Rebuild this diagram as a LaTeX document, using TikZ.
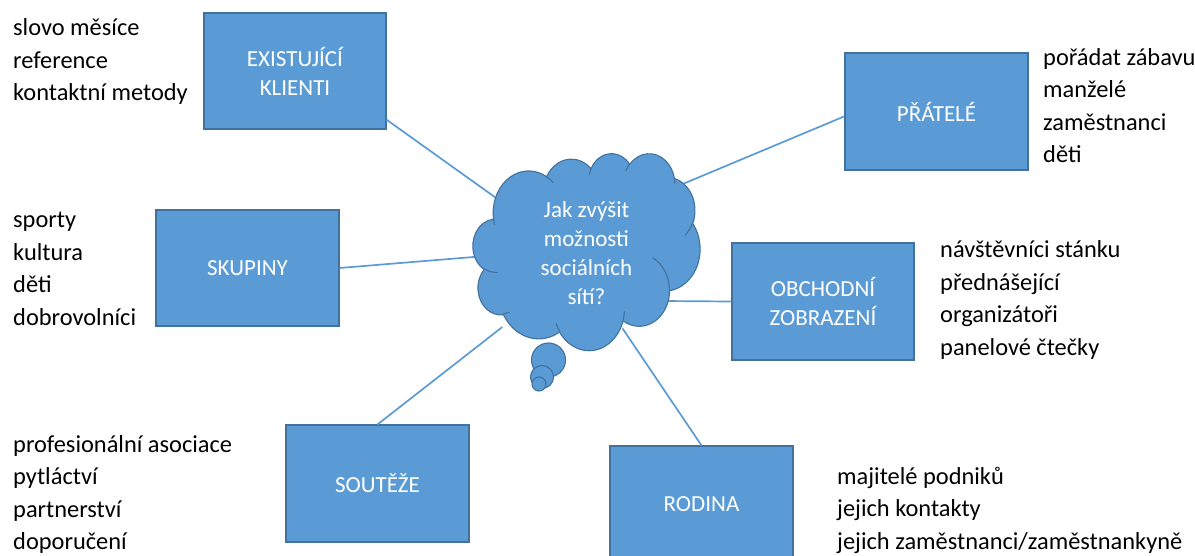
\documentclass[tikz,border=0pt]{standalone}
\usepackage{fontspec}
\setmainfont{Carlito}
\definecolor{boxblue}{HTML}{5B9BD5}
\definecolor{boxedge}{HTML}{41719C}
\definecolor{linkblue}{HTML}{5B9BD5}

% One cloud arc: name, x radius, y radius, start angle, sweep (angles measured on the ellipse as seen)
\newcommand\mkcloudarc[5]{%
  \pgfmathsetmacro\cloudtA{atan2((#2)*sin(#4),(#3)*cos(#4))}%
  \pgfmathsetmacro\cloudtB{atan2((#2)*sin(#4+#5),(#3)*cos(#4+#5))}%
  \pgfmathsetmacro\cloudtD{mod(\cloudtB-\cloudtA+720,360)}%
  \expandafter\xdef\csname #1\endcsname{arc[start angle=\cloudtA, delta angle=\cloudtD, x radius=#2, y radius=#3]}%
}
\mkcloudarc{cArcA}{67.53}{91.90}{-190.4875}{123.7805}
\mkcloudarc{cArcB}{53.33}{72.67}{-144.1024}{89.9452}
\mkcloudarc{cArcC}{43.65}{59.45}{-145.8079}{99.7230}
\mkcloudarc{cArcD}{48.57}{65.95}{-130.9861}{117.2417}
\mkcloudarc{cArcE}{53.33}{72.73}{-78.7089}{109.0269}
\mkcloudarc{cArcF}{67.75}{92.20}{-46.2673}{130.2690}
\mkcloudarc{cArcG}{57.85}{78.67}{0.6250}{114.0333}
\mkcloudarc{cArcH}{67.52}{92.15}{22.4516}{115.1726}
\mkcloudarc{cArcI}{77.20}{105.43}{66.2426}{75.7110}
\mkcloudarc{cArcJ}{43.60}{59.18}{-274.9421}{146.7356}
\mkcloudarc{cArcK}{43.45}{59.45}{-246.8285}{152.5189}
% inner fold lines
\mkcloudarc{fArcA}{43.45}{59.45}{86.742}{26.430}
\mkcloudarc{fArcB}{43.60}{59.18}{73.611}{11.447}
\mkcloudarc{fArcC}{67.52}{92.15}{137.624}{14.081}
\mkcloudarc{fArcD}{67.52}{92.15}{6.453}{15.998}
\mkcloudarc{fArcE}{57.85}{78.67}{-70.292}{70.917}
\mkcloudarc{fArcF}{53.33}{72.73}{30.318}{27.752}
\mkcloudarc{fArcG}{48.57}{65.95}{-13.744}{14.859}
\mkcloudarc{fArcH}{48.57}{65.95}{-149.181}{18.195}
\mkcloudarc{fArcI}{43.65}{59.45}{-163.494}{17.686}
\mkcloudarc{fArcJ}{67.53}{91.90}{-66.707}{12.319}
\mkcloudarc{fArcK}{67.53}{91.90}{157.654}{11.858}

\begin{document}
\begin{tikzpicture}[x=1pt,y=-1pt,
  topic/.style={draw=boxedge, fill=boxblue, line width=1.1pt, text=white,
    font=\fontsize{23}{29}\selectfont, align=center, inner sep=0pt},
  items/.style={anchor=base west, align=left, inner sep=0pt,
    font=\fontsize{24.4}{32.5}\selectfont},
  link/.style={draw=linkblue, line width=1.7pt},
  bubble/.style={draw=boxedge, fill=boxblue, line width=1.1pt}]

\useasboundingbox (0,0) rectangle (1195,556);

% topic boxes
\node[topic, minimum width=182pt, minimum height=116pt] (klienti) at (295,71) {EXISTUJÍCÍ\\KLIENTI};
\node[topic, minimum width=183pt, minimum height=117pt] (pratele) at (936.5,111.5) {PŘÁTELÉ};
\node[topic, minimum width=183pt, minimum height=116pt] (skupiny) at (247.5,268) {SKUPINY};
\node[topic, minimum width=182pt, minimum height=117pt] (obchod) at (823,301.5) {OBCHODNÍ\\ZOBRAZENÍ};
\node[topic, minimum width=183pt, minimum height=117pt] (rodina) at (701.5,504.5) {RODINA};
\node[topic, minimum width=183pt, minimum height=117pt] (souteze) at (377.5,483.5) {SOUTĚŽE};

% ends of the connectors, just inside the cloud outline
\coordinate (kl-end) at (498.5,199.7);
\coordinate (pr-end) at (675.6,187);
\coordinate (sk-end) at (482,256.3);
\coordinate (ob-end) at (662,301);
\coordinate (ro-end) at (622.5,328.4);
\coordinate (so-end) at (502.3,327);

% connectors (the cloud is drawn over their inner ends)
\draw[link] (klienti.-28) -- (kl-end);
\draw[link] (pratele.183) -- (pr-end);
\draw[link] (skupiny.east) -- (sk-end);
\draw[link] (obchod.west) -- (ob-end);
\draw[link] (rodina.north) -- (ro-end);
\draw[link] (souteze.north) -- (so-end);

% thought cloud
\begin{scope}[shift={(473,153)}, x=0.52546pt, y=-0.45602pt]
  \draw[draw=boxedge, fill=boxblue, line width=1.1pt, line join=round]
    (39.00,143.70) \cArcA \cArcB \cArcC \cArcD \cArcE \cArcF
    \cArcG \cArcH \cArcI \cArcJ \cArcK -- cycle;
  \draw[draw=boxedge, line width=1.1pt]
    (46.93,261.77) \fArcA
    (69.28,348.99) \fArcB
    (164.78,390.90) \fArcC
    (288.27,347.51) \fArcD
    (341.29,229.54) \fArcE
    (417.98,153.54) \fArcF
    (383.24,54.26) \fArcG
    (290.78,39.52) \fArcH
    (221.41,47.20) \fArcI
    (140.00,51.92) \fArcJ
    (41.27,157.89) \fArcK;
\end{scope}
\node[text=white, align=center, inner sep=0pt, font=\fontsize{23}{29}\selectfont]
  (question) at (586.5,253) {Jak zvýšit\\možnosti\\sociálních\\sítí?};

% trailing bubbles
\draw[bubble] (548.5,360) circle[radius=17];
\draw[bubble] (542,377) circle[radius=11.5];
\draw[bubble] (539,384) circle[radius=7];

% item lists (each node sits on the baseline of its last line)
\node[items] (list-klienti) at (13,101) {slovo měsíce\\reference\\kontaktní metody};
\node[items] (list-skupiny) at (13,325.5) {sporty\\kultura\\děti\\dobrovolníci};
\node[items] (list-souteze) at (13,549.5) {profesionální asociace\\pytláctví\\partnerství\\doporučení};
\node[items] (list-pratele) at (1043,163) {pořádat zábavu\\manželé\\zaměstnanci\\děti};
\node[items] (list-obchod) at (940,355.5) {návštěvníci stánku\\přednášející\\organizátoři\\panelové čtečky};
\node[items] (list-rodina) at (837,549) {majitelé podniků\\jejich kontakty\\jejich zaměstnanci/zaměstnankyně};
\end{tikzpicture}
\end{document}
